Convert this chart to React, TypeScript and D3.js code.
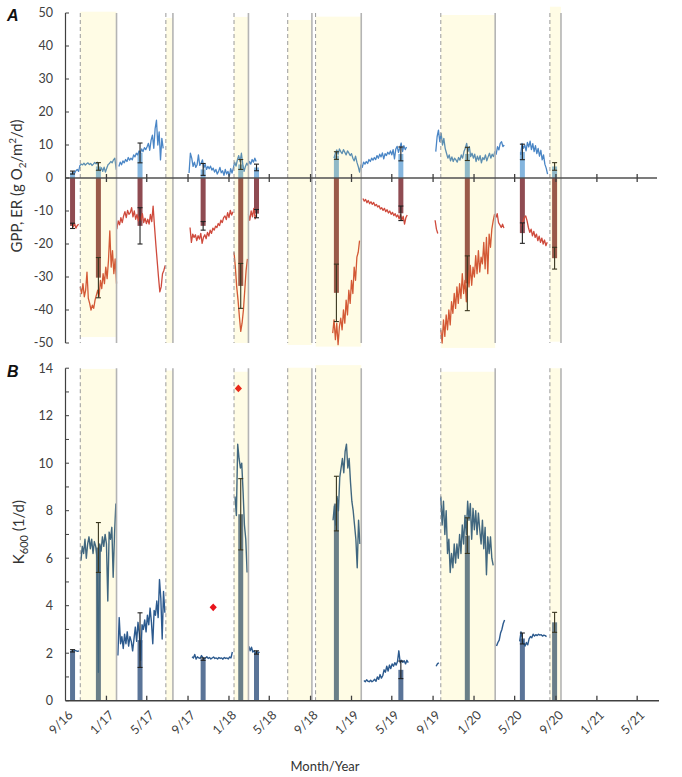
import React from "react";
import * as d3 from "d3";

// ---------- axis / labels ----------
const tickLabels = ["9/16","1/17","5/17","9/17","1/18","5/18","9/18","1/19","5/19","9/19","1/20","5/20","9/20","1/21","5/21"];
const tickDates = ["2016-09-01","2017-01-01","2017-05-01","2017-09-01","2018-01-01","2018-05-01","2018-09-01","2019-01-01","2019-05-01","2019-09-01","2020-01-01","2020-05-01","2020-09-01","2021-01-01","2021-05-01"];
const axisStart = "2016-09-01";
const axisEnd = "2021-07-05";
const yTicksA = [50, 40, 30, 20, 10, 0, -10, -20, -30, -40, -50];
const yTicksB = [0, 2, 4, 6, 8, 10, 12, 14];
const yMinorB = [0, 1, 2, 3, 4, 5, 6, 7, 8, 9, 10, 11, 12, 13, 14];

// ---------- shaded periods ----------
const shadeStart = ["2016-10-15","2017-06-27","2018-01-16","2018-06-25","2018-09-16","2019-09-24","2020-08-14"];
const shadeEnd = ["2017-01-31","2017-07-18","2018-02-28","2018-09-05","2019-01-30","2020-03-04","2020-09-16"];
const shadeTopA = [50.4, 48.5, 48.8, 47.9, 48.9, 49.4, 51.9];
const shadeBottomA = [-48.2, -50, -50, -50.6, -51.1, -51.5, -49.6];
const shadeTopB = [13.97, 13.9, 13.85, 14.02, 14.13, 13.85, 14.0];

// ---------- bar summaries ----------
const barDates = ["2016-09-22","2016-12-08","2017-04-11","2017-10-16","2018-02-05","2018-03-24","2018-11-17","2019-05-28","2019-12-12","2020-05-24","2020-08-28"];
const gppMean = [1.65, 3.5, 7.6, 2.6, 4.1, 3.2, 6.8, 7.3, 7.3, 7.9, 3.5];
const gppSd = [0.45, 1.15, 3.0, 1.8, 1.5, 1.0, 1.15, 2.1, 2.0, 2.35, 1.15];
const erMean = [-14.5, -30.2, -14.5, -14.5, -32.7, -10.8, -34.8, -10.7, -31.9, -16.7, -24.3];
const erSd = [0.8, 6.1, 5.5, 1.3, 6.8, 1.25, 8.7, 2.2, 8.3, 3.1, 3.3];
const k600Mean = [2.1, 6.45, 2.55, 1.75, 7.85, 2.03, 8.3, 1.3, 6.95, 2.62, 3.3];
const k600Sd = [0.05, 1.05, 1.15, 0.05, 1.5, 0.07, 1.15, 0.37, 0.75, 0.23, 0.42];

const outlierDates = ["2017-11-15", "2018-01-29"];
const outlierK600 = [3.93, 13.15];

// ---------- daily series (one value every STEP_DAYS days) ----------
const STEP_DAYS = 4;
const gpp1 = [1.0, 1.8, 1.5, 2.2, 2.6, 2.0, 3.8, 4.2, 4.0, 4.5, 3.9, 4.3, 4.6, 4.1, 4.4, 3.8, 4.2, 4.7, 4.3, 4.8, 3.0, 2.2, 3.1, 2.0, 3.3, 1.8, 3.0, 4.1, 4.4, 5.0, 4.6, 5.5, 6.0, 2.5];
const gpp2 = [3.5, 4.8, 4.0, 5.2, 4.6, 5.6, 5.0, 6.2, 5.4, 6.0, 5.5, 7.0, 6.4, 7.5, 7.0, 8.2, 7.6, 8.8, 8.0, 9.2, 8.6, 9.5, 10.5, 8.4, 11.5, 13.0, 9.0, 15.0, 17.5, 10.0, 14.0, 5.5, 12.0, 9.0];
const gpp3 = [1.5, 7.5, 6.0, 3.5, 4.8, 3.2, 4.0, 7.0, 3.8, 4.5, 5.5, 3.0, 4.2, 2.6, 3.5, 2.8, 3.6, 2.4, 3.0, 1.8, 2.6, 1.2, 2.0, 3.2, 1.6, 2.2, 0.8, 2.6, 1.2, 2.0, 0.6, 2.8, 1.5, 3.0, 4.8, 3.6, 5.5, 6.8, 5.0, 7.5, 4.2, 2.0, 3.5, 4.5, 3.8, 5.0, 4.2, 5.6, 4.8, 6.0, 5.0];
const gpp4 = [6.0, 7.5, 8.5, 7.2, 8.8, 8.0, 7.4, 8.6, 7.8, 7.0, 8.2, 7.6, 6.8, 7.4, 6.0, 5.2, 6.6, 4.8, 3.5, 1.8, 4.0, 3.2, 4.8, 4.2, 5.0, 4.4, 5.6, 5.0, 6.0, 5.4, 6.2, 5.6, 6.8, 6.0, 7.2, 6.4, 7.6, 5.8, 7.4, 6.8, 7.8, 7.2, 8.2, 7.0, 8.6, 5.8, 8.8, 9.6, 7.8, 9.2, 10.6, 8.0, 9.8, 8.6, 9.4];
const gpp5 = [8.0, 12.5, 14.5, 11.0, 13.5, 10.0, 12.0, 9.0, 7.5, 6.0, 7.0, 5.2, 6.4, 5.0, 6.0, 5.5, 4.8, 6.2, 5.4, 7.0, 6.0, 8.0, 9.0, 10.5, 8.0, 9.5, 6.5, 7.5, 6.0, 7.2, 5.0, 6.6, 5.4, 6.8, 4.6, 6.2, 5.6, 7.0, 5.2, 6.4, 7.5, 6.0, 7.2, 6.5, 8.0, 7.2, 9.5, 8.5, 10.5, 11.0, 9.5, 10.0];
const gpp6 = [7.0, 10.5, 9.0, 10.0, 8.2, 10.8, 9.4, 11.2, 8.6, 10.4, 8.0, 9.8, 7.4, 9.0, 6.6, 8.4, 5.5, 7.0, 4.2, 3.0, 1.2];

const er1a = [-14.0, -14.8, -13.8, -15.2, -14.4, -14.0];
const er1b = [-33.0, -35.0, -32.0, -36.0, -34.0, -28.5, -36.5, -38.0, -40.0, -38.5, -39.5, -37.0, -35.5, -34.0, -36.0, -31.0, -33.5, -29.0, -32.0, -27.0, -30.5, -25.0, -16.0, -27.0, -22.0, -29.0, -24.5, -32.0];
const er2 = [-15.5, -13.0, -14.2, -12.0, -13.5, -11.5, -10.2, -12.0, -9.8, -11.0, -10.5, -9.0, -11.8, -10.0, -12.5, -11.0, -13.0, -11.5, -12.8, -10.8, -13.5, -12.2, -13.8, -12.5, -14.0, -11.0, -13.2, -8.5, -14.5, -20.0, -25.0, -30.0, -34.5, -33.0, -29.0, -28.0, -26.5];
const er3a = [-15.0, -19.5, -17.0, -18.0, -17.2, -19.0, -17.5, -18.5, -16.8, -19.8, -18.0, -17.2, -18.4, -16.5, -17.6, -15.8, -16.8, -15.2, -15.8, -14.6, -15.0, -13.8, -14.4, -12.8, -13.5, -12.0, -11.5, -12.6, -10.5, -12.0, -9.8, -11.2, -10.2];
const er3b = [-22.5, -27.0, -33.0, -37.0, -42.0, -46.5, -44.0, -40.0, -34.0, -28.0, -24.5];
const er3c = [-11.0, -12.8, -10.0, -11.8, -9.2, -12.4, -11.0];
const er4 = [-47.0, -43.0, -49.0, -44.0, -50.5, -45.0, -42.5, -46.0, -40.0, -44.0, -37.0, -41.5, -34.0, -38.0, -31.0, -35.0, -27.0, -31.0, -24.0, -22.5, -19.0];
const er5 = [-6.2, -7.0, -6.5, -7.5, -6.8, -7.8, -7.2, -8.0, -7.4, -8.4, -8.0, -8.8, -8.4, -9.4, -9.0, -9.8, -9.2, -10.2, -9.6, -10.6, -10.0, -11.0, -10.4, -11.4, -10.8, -11.8, -11.2, -12.4, -11.0, -12.8, -11.6, -14.0, -12.0, -11.2];
const er6a = [-12.8, -15.5, -16.8];
const er6b = [-46.0, -50.0, -43.0, -48.0, -41.5, -46.0, -40.0, -44.5, -37.5, -41.0, -35.0, -39.5, -33.0, -38.0, -32.0, -36.5, -29.0, -35.0, -31.0, -37.5, -28.0, -33.0, -26.5, -32.5, -27.0, -30.0, -23.5, -29.0, -22.0, -28.5, -24.0, -26.0, -19.5, -27.5, -18.0, -29.0, -17.0, -21.0, -15.5, -13.0, -11.0, -12.0, -10.8, -13.5, -14.2, -15.0, -14.0, -15.2];
const er7 = [-14.5, -13.0, -12.0, -11.5, -13.0, -15.0, -16.5, -15.5, -17.5, -16.2, -18.0, -17.0, -19.0, -17.6, -19.5, -18.2, -20.0, -18.8, -20.5, -19.5];

const k1a = [2.1, 2.08, 2.1, 2.12, 2.1, 2.08, 2.1];
const k1b = [5.9, 6.5, 6.2, 6.8, 6.0, 6.6, 6.9, 6.4, 6.8, 6.2, 6.7, 6.5, 6.0, 1.2, 6.6, 6.3, 6.9, 6.5, 7.0, 6.6, 4.2, 7.1, 6.8, 7.3, 5.2, 7.0, 8.3];
const k2 = [1.9, 3.5, 2.4, 2.7, 2.2, 2.8, 2.4, 2.9, 2.3, 2.7, 2.5, 2.1, 2.6, 3.1, 2.5, 3.3, 2.8, 1.7, 3.2, 3.0, 3.4, 2.9, 3.6, 3.2, 3.9, 3.3, 2.4, 3.8, 3.6, 4.2, 3.5, 5.1, 4.3, 2.6, 4.6, 3.7];
const k3 = [1.85, 1.8, 1.95, 1.75, 1.85, 1.8, 1.78, 1.9, 1.82, 1.76, 1.8, 1.85, 1.78, 1.82, 1.76, 1.8, 1.84, 1.78, 1.8, 1.76, 1.82, 1.78, 1.8, 1.75, 1.82, 1.78, 1.8, 1.76, 1.84, 1.8, 2.05];
const k4 = [8.6, 7.8, 10.8, 10.2, 9.8, 10.0, 8.8, 7.4, 6.8, 5.4];
const k5 = [2.3, 2.1, 2.25, 2.05, 2.1, 2.0, 2.08, 2.02, 2.05];
const k6 = [7.6, 8.2, 7.4, 8.6, 8.0, 9.4, 9.8, 10.2, 9.6, 10.5, 10.8, 9.8, 10.2, 9.2, 8.4, 8.0, 7.4, 6.8, 5.6, 7.6, 6.6];
const k7 = [0.85, 0.8, 0.88, 0.82, 0.8, 0.86, 0.8, 0.84, 0.9, 0.82, 1.0, 0.9, 1.1, 0.95, 1.05, 1.3, 1.2, 1.45, 1.25, 1.5, 1.35, 1.55, 1.45, 1.6, 1.5, 1.65, 2.1, 1.6, 1.7, 1.62, 1.68, 1.55, 1.7, 1.6];
const k8 = [1.45, 1.55, 1.6];
const k9 = [8.6, 7.4, 8.4, 7.0, 8.0, 6.2, 6.8, 5.4, 6.2, 5.6, 6.6, 5.8, 6.6, 6.0, 7.0, 6.2, 7.4, 6.6, 7.8, 7.0, 8.4, 7.6, 8.3, 6.8, 8.1, 7.2, 8.0, 7.0, 7.9, 7.2, 6.6, 7.6, 6.4, 7.3, 5.3, 6.9, 6.2, 6.9, 6.0, 5.7];
const k10 = [2.3, 2.45, 2.55, 2.85, 3.0, 3.25, 3.4];
const k11 = [2.5, 2.9, 2.6, 2.4, 2.3, 2.45, 2.35, 2.6, 2.7, 2.65, 2.8, 2.72, 2.78, 2.74, 2.8, 2.76, 2.78, 2.72, 2.76, 2.74, 2.7];

const gppSegments = [
  { start: "2016-09-20", values: gpp1 },
  { start: "2017-02-07", values: gpp2 },
  { start: "2017-09-04", values: gpp3 },
  { start: "2018-11-10", values: gpp4 },
  { start: "2019-09-09", values: gpp5 },
  { start: "2020-05-19", values: gpp6 },
];
const erSegments = [
  { start: "2016-09-20", values: er1a },
  { start: "2016-10-15", values: er1b },
  { start: "2017-02-01", values: er2 },
  { start: "2017-09-07", values: er3a },
  { start: "2018-01-16", values: er3b },
  { start: "2018-02-28", values: er3c },
  { start: "2018-11-06", values: er4 },
  { start: "2019-02-04", values: er5 },
  { start: "2019-09-07", values: er6a },
  { start: "2019-09-24", values: er6b },
  { start: "2020-05-22", values: er7 },
];
const k600Segments = [
  { start: "2016-09-17", values: k1a },
  { start: "2016-10-17", values: k1b },
  { start: "2017-02-04", values: k2 },
  { start: "2017-09-13", values: k3 },
  { start: "2018-01-19", values: k4 },
  { start: "2018-03-01", values: k5 },
  { start: "2018-11-07", values: k6 },
  { start: "2019-02-07", values: k7 },
  { start: "2019-09-10", values: k8 },
  { start: "2019-09-24", values: k9 },
  { start: "2020-03-08", values: k10 },
  { start: "2020-05-16", values: k11 },
];

const pd = (s: string) => new Date(s + "T00:00:00Z");
const FONT = "Lato, 'Liberation Sans', Arial, sans-serif";
const TXT = "#404040";

function segPoints(seg: { start: string; values: number[] }): [Date, number][] {
  const s = pd(seg.start);
  return seg.values.map((v, i) => [d3.utcDay.offset(s, i * STEP_DAYS), v] as [Date, number]);
}

export default function App() {
  const W = 682, H = 777;
  const x = d3.scaleUtc().domain([pd(axisStart), pd(axisEnd)]).range([65.5, 659]);
  const yA = d3.scaleLinear().domain([-50, 50]).range([343, 13]);
  const yB = d3.scaleLinear().domain([0, 14]).range([700.7, 368.2]);
  const x0 = x(pd(axisStart));

  const lineA = d3.line<[Date, number]>().x((d) => x(d[0])).y((d) => yA(d[1]));
  const lineB = d3.line<[Date, number]>().x((d) => x(d[0])).y((d) => yB(d[1]));
  const bw = 5;

  const shadeFill = "rgb(255,225,0)";
  const shadeOp = 0.1;

  const boundaries = (y1: number, y2: number) => (
    <g>
      {shadeStart.map((d, i) => (
        <line key={"ds" + i} x1={x(pd(d))} x2={x(pd(d))} y1={y1} y2={y2} stroke="#9a9a9a" strokeWidth={1} strokeDasharray="4,3" />
      ))}
      {shadeEnd.map((d, i) => (
        <line key={"de" + i} x1={x(pd(d))} x2={x(pd(d))} y1={y1} y2={y2} stroke="#b4b4b4" strokeWidth={1.6} />
      ))}
    </g>
  );

  return (
    <svg width={W} height={H} style={{ position: "absolute", left: 0, top: 0, background: "#fff" }} fontFamily={FONT}>
      {/* ================= Panel A ================= */}
      <g>
        {barDates.map((d, i) => (
          <rect key={"gb" + i} x={x(pd(d)) - bw / 2} width={bw} y={yA(gppMean[i])} height={yA(0) - yA(gppMean[i])} fill="#84b5de" />
        ))}
        {barDates.map((d, i) => (
          <rect key={"eb" + i} x={x(pd(d)) - bw / 2} width={bw} y={yA(0)} height={yA(erMean[i]) - yA(0)} fill="#8f4b52" />
        ))}
        {gppSegments.map((s, i) => (
          <path key={"gl" + i} d={lineA(segPoints(s)) || ""} fill="none" stroke="#4a86c6" strokeWidth={1.3} strokeLinejoin="round" />
        ))}
        {erSegments.map((s, i) => (
          <path key={"el" + i} d={lineA(segPoints(s)) || ""} fill="none" stroke="#cf4a3c" strokeWidth={1.3} strokeLinejoin="round" />
        ))}
        {barDates.map((d, i) => {
          const cx = x(pd(d));
          const items = [
            [gppMean[i] - gppSd[i], gppMean[i] + gppSd[i]],
            [erMean[i] - erSd[i], erMean[i] + erSd[i]],
          ];
          return items.map(([lo, hi], j) => (
            <g key={"ea" + i + "_" + j} stroke="#222" strokeWidth={1.1}>
              <line x1={cx} x2={cx} y1={yA(lo)} y2={yA(hi)} />
              <line x1={cx - 2.5} x2={cx + 2.5} y1={yA(lo)} y2={yA(lo)} />
              <line x1={cx - 2.5} x2={cx + 2.5} y1={yA(hi)} y2={yA(hi)} />
            </g>
          ));
        })}
        {shadeStart.map((d, i) => (
          <rect key={"sa" + i} x={x(pd(d))} width={x(pd(shadeEnd[i])) - x(pd(d))} y={yA(shadeTopA[i])} height={yA(shadeBottomA[i]) - yA(shadeTopA[i])} fill={shadeFill} fillOpacity={shadeOp} />
        ))}
        {boundaries(yA(50), yA(-50))}
        {/* zero line with ticks */}
        <line x1={x0} x2={657} y1={yA(0)} y2={yA(0)} stroke="#505050" strokeWidth={1.6} />
        {tickDates.slice(1).map((d, i) => (
          <line key={"ta" + i} x1={x(pd(d))} x2={x(pd(d))} y1={yA(0) - 4} y2={yA(0) + 4} stroke="#404040" strokeWidth={1.3} />
        ))}
        {/* y axis */}
        <line x1={x0} x2={x0} y1={yA(50)} y2={yA(-50)} stroke="#404040" strokeWidth={1.2} />
        {yTicksA.map((t) => (
          <g key={"ya" + t}>
            <line x1={x0} x2={x0 + 3.5} y1={yA(t)} y2={yA(t)} stroke="#404040" strokeWidth={1} />
            <text x={53} y={yA(t)} dy="0.35em" textAnchor="end" fontSize={12.5} fill={TXT}>{t}</text>
          </g>
        ))}
        <text transform={`translate(22,${yA(0) + 8}) rotate(-90)`} textAnchor="middle" fontSize={15} fill="#333">
          GPP, ER  (g O<tspan fontSize={10} dy={4}>2</tspan><tspan dy={-4}>/m</tspan><tspan fontSize={10} dy={-6}>2</tspan><tspan dy={6}>/d)</tspan>
        </text>
        <text x={7} y={21} fontSize={16} fontWeight="bold" fontStyle="italic" fontFamily="'Liberation Sans', Arial, sans-serif" fill="#111">A</text>
      </g>

      {/* ================= Panel B ================= */}
      <g>
        {barDates.map((d, i) => (
          <rect key={"kb" + i} x={x(pd(d)) - bw / 2} width={bw} y={yB(k600Mean[i])} height={yB(0) - yB(k600Mean[i])} fill="#5a7498" />
        ))}
        {k600Segments.map((s, i) => (
          <path key={"kl" + i} d={lineB(segPoints(s)) || ""} fill="none" stroke="#2c5a8e" strokeWidth={1.4} strokeLinejoin="round" />
        ))}
        {barDates.map((d, i) => {
          const cx = x(pd(d));
          const lo = k600Mean[i] - k600Sd[i];
          const hi = k600Mean[i] + k600Sd[i];
          return (
            <g key={"kb_e" + i} stroke="#222" strokeWidth={1.1}>
              <line x1={cx} x2={cx} y1={yB(lo)} y2={yB(hi)} />
              <line x1={cx - 2.5} x2={cx + 2.5} y1={yB(lo)} y2={yB(lo)} />
              <line x1={cx - 2.5} x2={cx + 2.5} y1={yB(hi)} y2={yB(hi)} />
            </g>
          );
        })}
        {outlierDates.map((d, i) => (
          <path key={"od" + i} transform={`translate(${x(pd(d))},${yB(outlierK600[i])})`} d="M0,-3.8L3.6,0L0,3.8L-3.6,0Z" fill="#e8141c" />
        ))}
        {shadeStart.map((d, i) => (
          <rect key={"sb" + i} x={x(pd(d))} width={x(pd(shadeEnd[i])) - x(pd(d))} y={yB(shadeTopB[i])} height={yB(0) - yB(shadeTopB[i])} fill={shadeFill} fillOpacity={shadeOp} />
        ))}
        {boundaries(yB(14), yB(0))}
        {/* x axis */}
        <line x1={x0} x2={659} y1={yB(0)} y2={yB(0)} stroke="#404040" strokeWidth={1.6} />
        {tickDates.slice(1).map((d, i) => (
          <line key={"tb" + i} x1={x(pd(d))} x2={x(pd(d))} y1={yB(0)} y2={yB(0) - 5} stroke="#404040" strokeWidth={1.3} />
        ))}
        {tickDates.map((d, i) => (
          <text key={"tl" + i} transform={`translate(${x(pd(d)) + 5},${yB(0) + 12}) rotate(-45)`} textAnchor="end" dy="0.35em" fontSize={12.5} fill={TXT}>{tickLabels[i]}</text>
        ))}
        {/* y axis */}
        <line x1={x0} x2={x0} y1={yB(14)} y2={yB(0)} stroke="#404040" strokeWidth={1.2} />
        {yMinorB.map((t) => (
          <line key={"ymb" + t} x1={x0} x2={x0 + 3.5} y1={yB(t)} y2={yB(t)} stroke="#404040" strokeWidth={1} />
        ))}
        {yTicksB.map((t) => (
          <text key={"yb" + t} x={53} y={yB(t)} dy="0.35em" textAnchor="end" fontSize={12.5} fill={TXT}>{t}</text>
        ))}
        <text transform={`translate(24,${yB(7.1)}) rotate(-90)`} textAnchor="middle" fontSize={15} fill="#333">
          K<tspan fontSize={11} dy={4}>600</tspan><tspan dy={-4}> (1/d)</tspan>
        </text>
        <text x={7} y={377} fontSize={16} fontWeight="bold" fontStyle="italic" fontFamily="'Liberation Sans', Arial, sans-serif" fill="#111">B</text>
        <text x={325} y={771} textAnchor="middle" fontSize={13} fill="#333">Month/Year</text>
      </g>
    </svg>
  );
}
